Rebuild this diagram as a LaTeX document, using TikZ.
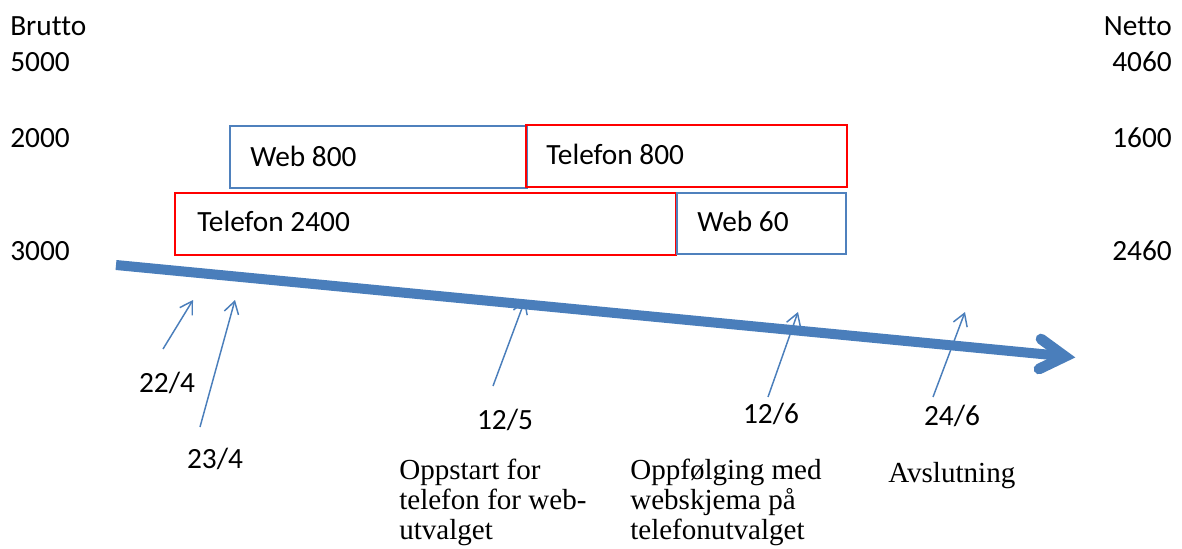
\documentclass[tikz,border=0pt]{standalone}
\usepackage{fontspec}
\setmainfont{Carlito}[Ligatures=NoCommon]
\newfontfamily\serifface{Liberation Serif}
\usetikzlibrary{arrows.meta}
\definecolor{boxblue}{RGB}{79,129,189}
\definecolor{lineblue}{RGB}{74,126,187}
\begin{document}
\begin{tikzpicture}[x=0.75pt,y=-0.75pt,
  lbl/.style={inner sep=0pt,font=\fontsize{22pt}{24pt}\selectfont},
  sertext/.style={inner sep=0pt,align=left,anchor=base west,font=\serifface\fontsize{21.8pt}{22.5pt}\selectfont},
  bluebox/.style={draw=boxblue,line width=1.5pt,inner sep=0pt},
  redbox/.style={draw=red,line width=1.5pt,inner sep=0pt},
  tick/.style={draw=lineblue,line width=1.1pt,-{Straight Barb[length=9pt,width=11pt,line width=1.1pt]}},
  timeline/.style={draw=lineblue,line width=7.5pt,line cap=butt},
  timehead/.style={draw=lineblue,line width=8pt,line cap=round,line join=miter}
]
\useasboundingbox (0,0) rectangle (1182,549);
% axis labels
\node[lbl,anchor=base west] (brutto) at (10,36) {Brutto};
\node[lbl,anchor=base west] (b5000) at (10,72) {5000};
\node[lbl,anchor=base west] (b2000) at (10,148) {2000};
\node[lbl,anchor=base west] (b3000) at (10,260) {3000};
\node[lbl,anchor=base east] (netto) at (1172,36) {Netto};
\node[lbl,anchor=base east] (n4060) at (1172,72) {4060};
\node[lbl,anchor=base east] (n1600) at (1172,148) {1600};
\node[lbl,anchor=base east] (n2460) at (1172,260) {2460};
% boxes
\path[bluebox] (230,126) rectangle (527,188);
\node[lbl,anchor=base west] (web800) at (250,167) {Web 800};
\path[redbox] (526,125) rectangle (847,187);
\node[lbl,anchor=base west] (tel800) at (546,165) {Telefon 800};
\path[redbox] (175,193) rectangle (676,255);
\node[lbl,anchor=base west] (tel2400) at (197,232) {Telefon 2400};
\path[bluebox] (677,193) rectangle (846,254);
\node[lbl,anchor=base west] (web60) at (697,232) {Web 60};
% timeline
\coordinate (tstart) at (116,265);
\coordinate (tend) at (1062,356);
\coordinate (hup) at (1041,339);
\coordinate (hlow) at (1039,369);
\coordinate (htip) at (1065,356.5);
\draw[timeline] (tstart) -- (tend);
\draw[timehead] (hup) -- (htip) -- (hlow);
% date arrows
\coordinate (a1s) at (163,349); \coordinate (a1e) at (193,300);
\coordinate (a2s) at (200,427); \coordinate (a2e) at (235,300);
\coordinate (a3s) at (493,386); \coordinate (a3e) at (525,300);
\coordinate (a4s) at (768,397); \coordinate (a4e) at (798,312);
\coordinate (a5s) at (933,397); \coordinate (a5e) at (965,312);
\draw[tick] (a1s) -- (a1e);
\draw[tick] (a2s) -- (a2e);
\draw[tick] (a3s) -- (a3e);
\draw[tick] (a4s) -- (a4e);
\draw[tick] (a5s) -- (a5e);
\node[lbl,anchor=base] (d1) at (167,392) {22/4};
\node[lbl,anchor=base] (d2) at (215,468) {23/4};
\node[lbl,anchor=base] (d3) at (505,429) {12/5};
\node[lbl,anchor=base] (d4) at (771,423) {12/6};
\node[lbl,anchor=base] (d5) at (952,425) {24/6};
% descriptions
\node[sertext] (oppstart) at (399,539) {Oppstart for\\telefon for web-\\utvalget};
\node[sertext] (oppf) at (630,539) {Oppfølging med\\webskjema på\\telefonutvalget};
\node[sertext] (avsl) at (888,482) {Avslutning};
\end{tikzpicture}
\end{document}
